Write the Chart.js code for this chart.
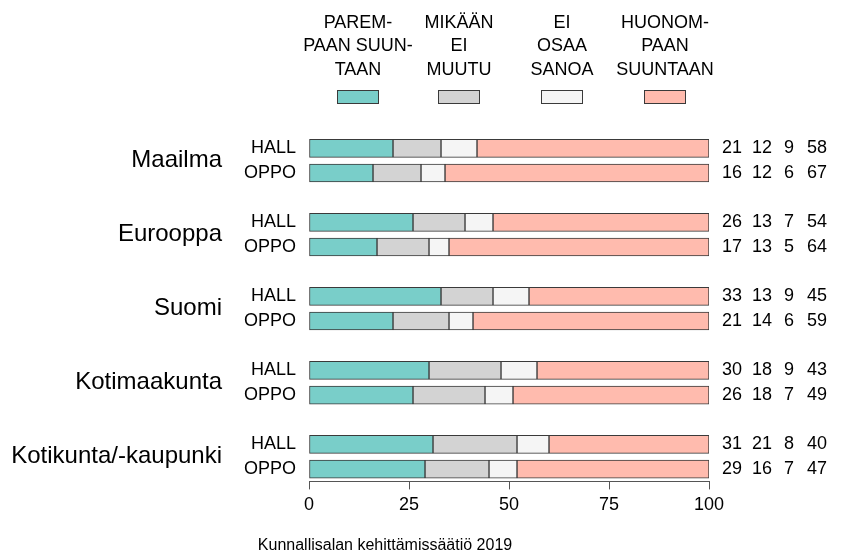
<!DOCTYPE html>
<html>
<head>
<meta charset="utf-8">
<script src="https://cdn.jsdelivr.net/npm/chart.js@4.4.1/dist/chart.umd.min.js"></script>
<style>
  html, body { margin: 0; padding: 0; background: #fff; }
  #wrap { width: 843px; height: 556px; }
</style>
</head>
<body>
<div id="wrap"><canvas id="chart" width="843" height="556"></canvas></div>
<script>
// groups and rows
const groups = ['Maailma', 'Eurooppa', 'Suomi', 'Kotimaakunta', 'Kotikunta/-kaupunki'];
const rowLabels = ['HALL', 'OPPO'];

// printed values, HALL/OPPO per group in order
const parempaan  = [21, 16, 26, 17, 33, 21, 30, 26, 31, 29];
const mikaanEi   = [12, 12, 13, 13, 13, 14, 18, 18, 21, 16];
const eiOsaa     = [9, 6, 7, 5, 9, 6, 9, 7, 8, 7];
const huonompaan = [58, 67, 54, 64, 45, 59, 43, 49, 40, 47];
// last segment as drawn (bars always reach 100, printed numbers are rounded)
const huonompaanBar = [58, 66, 54, 65, 45, 59, 43, 49, 40, 48];

const legendLabels = [
    ['PAREM-', 'PAAN SUUN-', 'TAAN'],
    ['MIKÄÄN', 'EI', 'MUUTU'],
    ['EI', 'OSAA', 'SANOA'],
    ['HUONOM-', 'PAAN', 'SUUNTAAN']
];
const xTicks = [0, 25, 50, 75, 100];
const footerText = 'Kunnallisalan kehittämissäätiö 2019';

const colors = ['#79cec9', '#d3d3d3', '#f5f5f5', '#ffbbae'];
const FONT = '"Liberation Sans", Arial, sans-serif';

// category slots: HALL, OPPO, blank spacer between groups
const slotLabels = [];
const slotRow = [];
groups.forEach((g, gi) => {
    rowLabels.forEach((r, ri) => {
        slotLabels.push(r);
        slotRow.push(gi * 2 + ri);
    });
    if (gi < groups.length - 1) {
        slotLabels.push('');
        slotRow.push(null);
    }
});
function toSlots(arr){
    return slotRow.map(i => i === null ? null : arr[i]);
}
const barSeries = [parempaan, mikaanEi, eiOsaa, huonompaanBar];
const printedSeries = [parempaan, mikaanEi, eiOsaa, huonompaan];

const datasets = barSeries.map((s, k) => ({
    label: legendLabels[k].join(' '),
    data: toSlots(s),
    backgroundColor: colors[k],
    borderColor: '#3a3a3a',
    borderWidth: 1,
    borderSkipped: false,
    barThickness: 18
}));

const textPlugin = {
    id: 'textPlugin',
    afterDraw(chart){
        const ctx = chart.ctx;
        const area = chart.chartArea;
        const y = chart.scales.y;
        ctx.save();
        ctx.fillStyle = '#000';
        ctx.textBaseline = 'middle';

        // row labels, group labels and values
        slotRow.forEach((row, slot) => {
            if (row === null) return;
            const yy = y.getPixelForValue(slot);
            ctx.font = `18px ${FONT}`;
            ctx.textAlign = 'right';
            ctx.fillText(slotLabels[slot], area.left - 13, yy);
            const colX = [23, 53, 80, 108];
            ctx.textAlign = 'center';
            printedSeries.forEach((s, k) => {
                ctx.fillText(String(s[row]), area.right + colX[k], yy);
            });
            if (row % 2 === 0){
                const y2 = y.getPixelForValue(slot + 1);
                ctx.font = `24px ${FONT}`;
                ctx.textAlign = 'right';
                ctx.fillText(groups[row / 2], 222, (yy + y2) / 2);
            }
        });

        // legend on top
        ctx.font = `18px ${FONT}`;
        ctx.textAlign = 'center';
        const legX = [358, 459, 562, 665];
        const lineY = [23, 46.5, 70];
        legendLabels.forEach((lines, k) => {
            lines.forEach((t, li) => {
                ctx.fillText(t, legX[k], lineY[li]);
            });
            ctx.fillStyle = colors[k];
            ctx.fillRect(legX[k] - 21, 90, 42, 14);
            ctx.strokeStyle = '#3a3a3a';
            ctx.lineWidth = 1;
            ctx.strokeRect(legX[k] - 20.5, 90.5, 41, 13);
            ctx.fillStyle = '#000';
        });

        // footer
        ctx.font = `16px ${FONT}`;
        ctx.textAlign = 'center';
        ctx.fillText(footerText, 385, 546);
        ctx.restore();
    }
};

new Chart(document.getElementById('chart'), {
    type: 'bar',
    data: {
        labels: slotLabels,
        datasets: datasets
    },
    options: {
        indexAxis: 'y',
        responsive: false,
        animation: false,
        layout: {
            padding: { left: 309, right: 134, top: 136, bottom: 35 }
        },
        scales: {
            x: {
                stacked: true,
                min: 0,
                max: 100,
                afterBuildTicks: (scale) => {
                    scale.ticks = xTicks.map(v => ({ value: v }));
                },
                grid: {
                    drawOnChartArea: false,
                    drawTicks: true,
                    tickLength: 8,
                    color: '#555'
                },
                border: { color: '#555' },
                ticks: {
                    color: '#000',
                    padding: 5,
                    font: { size: 18, family: FONT }
                }
            },
            y: {
                stacked: true,
                display: false
            }
        },
        plugins: {
            legend: { display: false },
            tooltip: { enabled: false }
        }
    },
    plugins: [textPlugin]
});
</script>
</body>
</html>
